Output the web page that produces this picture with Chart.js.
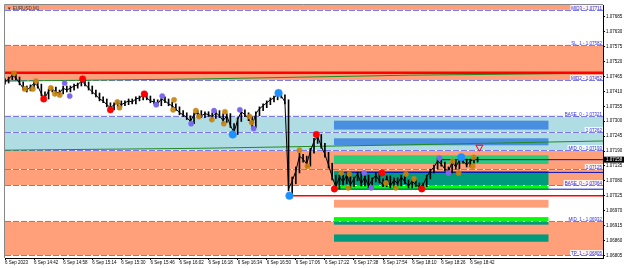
<!DOCTYPE html>
<html>
<head>
<meta charset="utf-8">
<title>EURUSD,M1</title>
<script src="https://cdn.jsdelivr.net/npm/chart.js@4.4.0/dist/chart.umd.min.js"></script>
<style>
  html, body { margin: 0; padding: 0; background: #fff; }
  #chart { display: block; }
</style>
</head>
<body>
<canvas id="chart" width="625" height="268"></canvas>
<script>
// bars every 2 minutes starting 14:26
const closes = [
  1.07445, 1.07456, 1.07470, 1.07459, 1.07441, 1.07422, 1.07415, 1.07426, 1.07441, 1.07430,
  1.07401, 1.07386, 1.07412, 1.07419, 1.07408, 1.07404, 1.07422, 1.07415, 1.07422, 1.07430,
  1.07434, 1.07448, 1.07437, 1.07422, 1.07408, 1.07397, 1.07382, 1.07375, 1.07361, 1.07350,
  1.07361, 1.07368, 1.07361, 1.07368, 1.07375, 1.07371, 1.07382, 1.07386, 1.07397, 1.07386,
  1.07375, 1.07371, 1.07364, 1.07382, 1.07375, 1.07364, 1.07357, 1.07346, 1.07331, 1.07324,
  1.07313, 1.07299, 1.07324, 1.07331, 1.07320, 1.07328, 1.07324, 1.07317, 1.07331, 1.07320,
  1.07302, 1.07320, 1.07284, 1.07258, 1.07306, 1.07335, 1.07324, 1.07310, 1.07284, 1.07328,
  1.07346, 1.07357, 1.07368, 1.07379, 1.07386, 1.07401, 1.07393, 1.07371, 1.07050, 1.07079,
  1.07116, 1.07171, 1.07160, 1.07142, 1.07189, 1.07226, 1.07244, 1.07207, 1.07178, 1.07138,
  1.07094, 1.07058, 1.07094, 1.07076, 1.07101, 1.07065, 1.07087, 1.07105, 1.07069, 1.07094,
  1.07061, 1.07083, 1.07101, 1.07079, 1.07065, 1.07091, 1.07061, 1.07083, 1.07069, 1.07094,
  1.07076, 1.07061, 1.07079, 1.07065, 1.07058, 1.07065, 1.07094, 1.07116, 1.07131, 1.07153,
  1.07142, 1.07123, 1.07116, 1.07149, 1.07131, 1.07156, 1.07153, 1.07138, 1.07153, 1.07160,
  1.07158
];
const highs = [
  1.07456, 1.07463, 1.07477, 1.07474, 1.07463, 1.07445, 1.07430, 1.07434, 1.07448, 1.07445,
  1.07437, 1.07408, 1.07419, 1.07426, 1.07426, 1.07415, 1.07430, 1.07430, 1.07430, 1.07437,
  1.07441, 1.07456, 1.07452, 1.07445, 1.07430, 1.07415, 1.07404, 1.07390, 1.07382, 1.07368,
  1.07368, 1.07375, 1.07375, 1.07375, 1.07382, 1.07382, 1.07390, 1.07393, 1.07404, 1.07404,
  1.07393, 1.07382, 1.07379, 1.07390, 1.07390, 1.07382, 1.07371, 1.07364, 1.07353, 1.07339,
  1.07331, 1.07320, 1.07331, 1.07339, 1.07339, 1.07335, 1.07335, 1.07331, 1.07339, 1.07339,
  1.07328, 1.07328, 1.07328, 1.07291, 1.07313, 1.07342, 1.07342, 1.07331, 1.07317, 1.07335,
  1.07353, 1.07364, 1.07375, 1.07386, 1.07393, 1.07408, 1.07404, 1.07397, 1.07379, 1.07094,
  1.07131, 1.07182, 1.07178, 1.07171, 1.07200, 1.07237, 1.07255, 1.07251, 1.07218, 1.07185,
  1.07145, 1.07101, 1.07101, 1.07101, 1.07109, 1.07109, 1.07094, 1.07112, 1.07112, 1.07101,
  1.07101, 1.07091, 1.07109, 1.07109, 1.07087, 1.07098, 1.07098, 1.07091, 1.07091, 1.07101,
  1.07101, 1.07083, 1.07087, 1.07087, 1.07072, 1.07072, 1.07101, 1.07123, 1.07138, 1.07164,
  1.07160, 1.07149, 1.07131, 1.07156, 1.07156, 1.07164, 1.07164, 1.07160, 1.07160, 1.07167,
  1.07167
];
const lows = [
  1.07437, 1.07441, 1.07452, 1.07452, 1.07434, 1.07415, 1.07408, 1.07412, 1.07422, 1.07422,
  1.07393, 1.07379, 1.07382, 1.07408, 1.07401, 1.07397, 1.07401, 1.07408, 1.07408, 1.07415,
  1.07422, 1.07430, 1.07430, 1.07415, 1.07401, 1.07390, 1.07375, 1.07368, 1.07353, 1.07342,
  1.07342, 1.07353, 1.07353, 1.07357, 1.07361, 1.07364, 1.07364, 1.07375, 1.07379, 1.07379,
  1.07368, 1.07364, 1.07357, 1.07357, 1.07368, 1.07357, 1.07350, 1.07339, 1.07324, 1.07317,
  1.07306, 1.07291, 1.07291, 1.07317, 1.07313, 1.07313, 1.07317, 1.07310, 1.07310, 1.07313,
  1.07295, 1.07295, 1.07277, 1.07247, 1.07251, 1.07299, 1.07317, 1.07302, 1.07273, 1.07277,
  1.07320, 1.07339, 1.07350, 1.07361, 1.07371, 1.07379, 1.07386, 1.07364, 1.07043, 1.07021,
  1.07069, 1.07109, 1.07149, 1.07131, 1.07134, 1.07182, 1.07218, 1.07200, 1.07167, 1.07127,
  1.07083, 1.07047, 1.07050, 1.07065, 1.07069, 1.07054, 1.07058, 1.07080, 1.07061, 1.07061,
  1.07054, 1.07054, 1.07076, 1.07072, 1.07058, 1.07058, 1.07054, 1.07054, 1.07061, 1.07061,
  1.07069, 1.07054, 1.07054, 1.07058, 1.07047, 1.07050, 1.07058, 1.07087, 1.07109, 1.07123,
  1.07134, 1.07116, 1.07105, 1.07109, 1.07123, 1.07123, 1.07145, 1.07131, 1.07131, 1.07145,
  1.07149
];
const lastPrice = 1.07158;

const timeTicks = [0, 16, 32, 48, 64, 80, 96, 112, 128, 144, 160, 176, 192, 208, 224, 240, 256];
const timeLabels = ['6 Sep 2023', '6 Sep 14:42', '6 Sep 14:58', '6 Sep 15:14', '6 Sep 15:30',
  '6 Sep 15:46', '6 Sep 16:02', '6 Sep 16:18', '6 Sep 16:34', '6 Sep 16:50', '6 Sep 17:06',
  '6 Sep 17:22', '6 Sep 17:38', '6 Sep 17:54', '6 Sep 18:10', '6 Sep 18:26', '6 Sep 18:42'];
const priceTicks = [1.06805, 1.06860, 1.06915, 1.06970, 1.07025, 1.07080, 1.07135, 1.07190,
  1.07245, 1.07300, 1.07355, 1.07410, 1.07465, 1.07520, 1.07575, 1.07630, 1.07685];

// zones across the whole chart
const bandHigh = [1.07729, 1.07582, 1.07321, 1.07193, 1.06932];
const bandLow = [1.07711, 1.07452, 1.07193, 1.07064, 1.06805];
const bandKind = ['supply', 'supply', 'mid', 'supply', 'supply'];

// level lines and their names
const levelPrice = [1.07711, 1.07582, 1.07452, 1.07321, 1.07262, 1.07193, 1.07125, 1.07064, 1.06932, 1.06805];
const levelName = ['MID3', 'SL_1', 'MID2', 'BASE_0', '', 'MID_0', '', 'BASE_0', 'MID_1', 'TP_1'];

// boxes on the right side (minutes)
const boxFrom = 181;
const boxTo = 299;
const boxHigh = [1.07302, 1.07237, 1.07174, 1.07116, 1.07061, 1.07010, 1.06946, 1.06932, 1.06882];
const boxLow = [1.07269, 1.07211, 1.07142, 1.07061, 1.07049, 1.06981, 1.06932, 1.06918, 1.06855];
const boxKind = ['blue', 'blue', 'green', 'teal', 'lime', 'supply', 'lime', 'teal', 'teal'];

// trend lines
const greenTimes = [0, 108, 223, 329];
const greenUpper = [1.07448, 1.07456, 1.07470, 1.07477];
const greenLower = [1.07193, 1.07200, 1.07213, 1.07227];
const redLevel = 1.07479;
const lowLevel = 1.07025;
const lowFrom = 156.5;
const rangeTop = 1.07111;
const rangeBottom = 1.07049;
const rangeFrom = 181;
const bidFrom = 240;

// swing markers
const orangeTimes = [4.9, 10.9, 15.3, 17, 25.2, 27.4, 30.1, 61.8, 63, 92.5, 93, 105, 106.7, 113.8, 120.4, 121,
  134.6, 135.7, 162, 166.4, 185, 188.8, 189.4, 209.6, 215, 220.6, 225, 246.3, 249.6, 257.3, 257.8];
const orangePrices = [1.07477, 1.07419, 1.07419, 1.07448, 1.07423, 1.07401, 1.07397, 1.07371, 1.07350, 1.07342,
  1.07379, 1.07339, 1.07317, 1.07306, 1.07291, 1.07335, 1.07317, 1.07295, 1.07193, 1.07134, 1.07109, 1.07054,
  1.07105, 1.07072, 1.07054, 1.07105, 1.07087, 1.07153, 1.07109, 1.07134, 1.07167];
const redTimes = [21.3, 42.7, 58, 76.6, 171.3, 181.2, 207.4, 229.3];
const redPrices = [1.07382, 1.07456, 1.07342, 1.07401, 1.07251, 1.07050, 1.07109, 1.07050];
const violetTimes = [32.8, 35.6, 83.2, 86.5, 102.4, 115, 129.2, 136.8, 197.6, 201.5, 239, 244];
const violetPrices = [1.07441, 1.07393, 1.07361, 1.07393, 1.07291, 1.07339, 1.07342, 1.07273, 1.07109, 1.07054,
  1.07164, 1.07109];
const blueTimes = [125.3, 150.5, 156.5, 251];
const bluePrices = [1.07251, 1.07404, 1.07025, 1.07167];
const arrowTime = [261];
const arrowPrice = [1.07204];

const colors = {
  supply: '#ffa07a',
  mid: '#b0dde4',
  blue: '#4a8edf',
  green: '#2bcb77',
  teal: '#009a7c',
  lime: '#00ff00',
  dash: '#7b7bf0',
  label: '#3030e0'
};
const tinyFont = '"Liberation Sans", Arial, sans-serif';

const pts = (xs, ys) => xs.map((x, i) => ({ x: x, y: ys[i] }));
const hline = (price, from, to) => [{ x: from, y: price }, { x: to, y: price }];

const zonesPlugin = {
  id: 'zones',
  beforeDraw(chart) {
    const ctx = chart.ctx;
    ctx.save();
    ctx.fillStyle = '#fff';
    ctx.fillRect(0, 0, chart.width, chart.height);
    ctx.restore();
  },
  beforeDatasetsDraw(chart) {
    const { ctx, chartArea: a, scales: { x, y } } = chart;
    ctx.save();
    for (let i = 0; i < bandHigh.length; i++) {
      const top = Math.max(a.top, y.getPixelForValue(bandHigh[i]));
      const bot = y.getPixelForValue(bandLow[i]);
      ctx.fillStyle = colors[bandKind[i]];
      ctx.fillRect(a.left, top, a.width, bot - top);
    }
    const bx0 = x.getPixelForValue(boxFrom);
    const bx1 = x.getPixelForValue(boxTo);
    for (let i = 0; i < boxHigh.length; i++) {
      const top = y.getPixelForValue(boxHigh[i]);
      const bot = y.getPixelForValue(boxLow[i]);
      ctx.fillStyle = colors[boxKind[i]];
      ctx.fillRect(bx0, top, bx1 - bx0, bot - top);
    }
    // dashed levels
    ctx.lineWidth = 1;
    levelPrice.forEach(p => {
      const py = Math.round(y.getPixelForValue(p)) + 0.5;
      ctx.setLineDash([]);
      ctx.strokeStyle = '#fff';
      ctx.beginPath(); ctx.moveTo(a.left, py); ctx.lineTo(a.right, py); ctx.stroke();
      ctx.setLineDash([6, 2]);
      ctx.strokeStyle = colors.dash;
      ctx.beginPath(); ctx.moveTo(a.left, py); ctx.lineTo(a.right, py); ctx.stroke();
    });
    ctx.restore();
  },
  afterDatasetsDraw(chart) {
    const { ctx, chartArea: a, scales: { y } } = chart;
    ctx.save();
    ctx.font = '4.5px ' + tinyFont;
    ctx.textAlign = 'right';
    ctx.textBaseline = 'alphabetic';
    levelPrice.forEach((p, i) => {
      const txt = levelName[i] ? levelName[i] + ' - ' + p.toFixed(5) : p.toFixed(5);
      const py = Math.round(y.getPixelForValue(p));
      const w = ctx.measureText(txt).width;
      ctx.fillStyle = 'rgba(255,255,255,0.85)';
      ctx.fillRect(a.right - w - 2, py - 5, w + 2, 5);
      ctx.fillStyle = colors.label;
      ctx.fillText(txt, a.right - 1, py - 0.5);
    });
    // title
    ctx.textAlign = 'left';
    ctx.fillStyle = '#333';
    ctx.fillText('\u25BC EURUSD,M1', a.left + 2, a.top + 5);
    ctx.restore();
  },
  afterDraw(chart) {
    const { ctx, chartArea: a, scales: { y } } = chart;
    ctx.save();
    ctx.strokeStyle = '#888';
    ctx.lineWidth = 1;
    ctx.beginPath();
    ctx.moveTo(a.left - 0.5, a.bottom);
    ctx.lineTo(a.left - 0.5, a.top - 0.5);
    ctx.lineTo(a.right, a.top - 0.5);
    ctx.stroke();
    // last price box
    const py = y.getPixelForValue(lastPrice);
    ctx.fillStyle = '#000';
    ctx.fillRect(a.right + 1, py - 3, 20, 6);
    ctx.fillStyle = '#fff';
    ctx.font = '4.5px ' + tinyFont;
    ctx.textBaseline = 'middle';
    ctx.fillText(lastPrice.toFixed(5), a.right + 3, py);
    ctx.restore();
  }
};

// lower order is drawn on top
const lineStyle = (color, width, order) => ({
  type: 'line', borderColor: color, borderWidth: width, pointRadius: 0, fill: false, tension: 0, order: order
});
const markerStyle = (color, r) => ({
  type: 'scatter', backgroundColor: color, borderColor: color, pointRadius: r, pointBorderWidth: 0.5, order: 0
});

new Chart(document.getElementById('chart'), {
  type: 'line',
  data: {
    datasets: [
      Object.assign(lineStyle('#228b22', 1, 5), { data: pts(greenTimes, greenUpper) }),
      Object.assign(lineStyle('#228b22', 1, 5), { data: pts(greenTimes, greenLower) }),
      Object.assign(lineStyle('#ff0000', 2.5, 4), { data: hline(redLevel, 0, 329) }),
      Object.assign(lineStyle('#ff0000', 1.5, 4), { data: hline(lowLevel, lowFrom, 329) }),
      Object.assign(lineStyle('#0010c0', 1, 4), { data: hline(rangeTop, rangeFrom + 4, 329) }),
      Object.assign(lineStyle('#0010c0', 1, 4), { data: hline(rangeBottom, rangeFrom, 329) }),
      Object.assign(lineStyle('#0010c0', 1, 4), { data: hline(lastPrice, bidFrom, 329) }),
      {
        type: 'bar', order: 2, backgroundColor: '#000', barThickness: 1, borderWidth: 0,
        data: closes.map((c, i) => ({ x: i * 2, y: [lows[i], highs[i]] }))
      },
      Object.assign(lineStyle('#000', 1, 1), { data: closes.map((c, i) => ({ x: i * 2, y: c })) }),
      Object.assign(markerStyle('rgba(200,130,10,0.9)', 2.6), { data: pts(orangeTimes, orangePrices) }),
      Object.assign(markerStyle('#7b68ee', 2.6), { data: pts(violetTimes, violetPrices) }),
      Object.assign(markerStyle('#ff0000', 3.2), { data: pts(redTimes, redPrices) }),
      Object.assign(markerStyle('#1e90ff', 3.8), { data: pts(blueTimes, bluePrices) }),
      {
        type: 'scatter', order: 0, data: pts(arrowTime, arrowPrice), pointStyle: 'triangle', rotation: 180,
        pointRadius: 4, backgroundColor: 'rgba(255,255,255,0)', borderColor: '#ff0000', pointBorderWidth: 1
      }
    ]
  },
  options: {
    responsive: false,
    animation: false,
    devicePixelRatio: 1,
    layout: { padding: { top: 2, left: 2, right: 0, bottom: 0 } },
    plugins: { legend: { display: false }, tooltip: { enabled: false } },
    scales: {
      x: {
        type: 'linear',
        min: 0,
        max: 329,
        offset: false,
        afterFit(s) { s.height = 10; },
        afterBuildTicks(s) { s.ticks = timeTicks.map(v => ({ value: v })); },
        grid: { drawOnChartArea: false, color: '#000', tickLength: 2, offset: false },
        border: { color: '#000' },
        ticks: {
          autoSkip: false, maxRotation: 0, minRotation: 0, align: 'start', padding: 0,
          color: '#000', font: { family: tinyFont, size: 4.5 },
          callback: (v, i) => timeLabels[i]
        }
      },
      y: {
        position: 'right',
        min: 1.06795,
        max: 1.07729,
        afterFit(s) { s.width = 22; },
        afterBuildTicks(s) { s.ticks = priceTicks.map(v => ({ value: v })); },
        grid: { drawOnChartArea: false, color: '#000', tickLength: 2 },
        border: { color: '#000' },
        ticks: {
          padding: 1, color: '#000', font: { family: tinyFont, size: 4.5 },
          callback: v => v.toFixed(5)
        }
      }
    }
  },
  plugins: [zonesPlugin]
});
</script>
</body>
</html>
